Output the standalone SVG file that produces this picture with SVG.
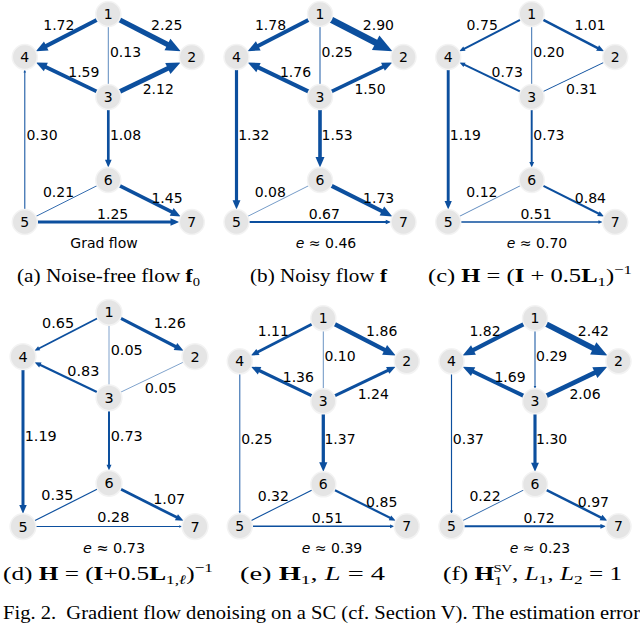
<svg xmlns="http://www.w3.org/2000/svg" width="640" height="625" viewBox="0 0 640 625">
<style>
.e line{stroke:#0c4f9e;fill:none;stroke-linecap:butt}
.n circle{fill:#e5e5e5;stroke:#f3f3f3;stroke-width:1.5}
.n text,.lb text,.lb{font-family:"DejaVu Sans",sans-serif;font-size:14px;text-anchor:middle;fill:#000}
.cap{font-family:"Liberation Serif",serif;font-size:19px;fill:#000}
.b{font-weight:bold}
.i{font-style:italic}
</style>
<defs>
<marker id="ah" markerUnits="strokeWidth" markerWidth="2.9" markerHeight="2.5" refX="0.5" refY="1.25" orient="auto" overflow="visible">
<path d="M0,0 L2.9,1.25 L0,2.5 Z" fill="#0c4f9e"/>
</marker>
</defs>

<!-- Panel a -->
<g id="panel-a" transform="translate(108.3,14)">
<g id="a-edges" class="e">
<line x1="-11.11" y1="5.72" x2="-63.83" y2="32.87" stroke-width="4.01" marker-end="url(#ah)"/>
<line x1="11.11" y1="5.72" x2="61.45" y2="31.64" stroke-width="5.13" marker-end="url(#ah)"/>
<line x1="0" y1="12.5" x2="0" y2="70.5" stroke-width="0.67"/>
<line x1="-11.27" y1="77.6" x2="-64.13" y2="52.28" stroke-width="3.74" marker-end="url(#ah)"/>
<line x1="11.27" y1="77.6" x2="61.73" y2="53.43" stroke-width="4.85" marker-end="url(#ah)"/>
<line x1="0" y1="95.5" x2="0" y2="147.09" stroke-width="2.67" marker-end="url(#ah)"/>
<line x1="-83.5" y1="195.5" x2="-83.5" y2="57.97" stroke-width="1.03" marker-end="url(#ah)"/>
<line x1="-72.33" y1="202.38" x2="-11.17" y2="171.62" stroke-width="0.84"/>
<line x1="11.17" y1="171.62" x2="64.94" y2="198.66" stroke-width="3.45" marker-end="url(#ah)"/>
<line x1="-71" y1="208" x2="63.74" y2="208" stroke-width="3.03" marker-end="url(#ah)"/>
</g>
<g id="a1" class="n"><circle cx="0" cy="0" r="12.5"/><text x="0" y="5">1</text></g>
<g id="a2" class="n"><circle cx="83.5" cy="43" r="12.5"/><text x="83.5" y="48">2</text></g>
<g id="a3" class="n"><circle cx="0" cy="83" r="12.5"/><text x="0" y="88">3</text></g>
<g id="a4" class="n"><circle cx="-83.5" cy="43" r="12.5"/><text x="-83.5" y="48">4</text></g>
<g id="a5" class="n"><circle cx="-83.5" cy="208" r="12.5"/><text x="-83.5" y="213">5</text></g>
<g id="a6" class="n"><circle cx="0" cy="166" r="12.5"/><text x="0" y="171">6</text></g>
<g id="a7" class="n"><circle cx="83.5" cy="208" r="12.5"/><text x="83.5" y="213">7</text></g>
<g id="a-labels" class="lb">
<text x="-49.5" y="16">1.72</text><text x="58.4" y="16">2.25</text><text x="17.2" y="42.5">0.13</text>
<text x="-24.5" y="62.8">1.59</text><text x="50" y="79.5">2.12</text><text x="17.2" y="126">1.08</text>
<text x="-66.3" y="126">0.30</text><text x="-49.8" y="182.7">0.21</text><text x="58.7" y="188.5">1.45</text>
<text x="4.3" y="204.5">1.25</text>
<text x="-4.3" y="233.5">Grad flow</text>
</g>
</g>

<!-- Panel b -->
<g id="panel-b" transform="translate(320,14)">
<g id="b-edges" class="e">
<line x1="-11.11" y1="5.72" x2="-63.56" y2="32.73" stroke-width="4.14" marker-end="url(#ah)"/>
<line x1="11.11" y1="5.72" x2="58.54" y2="30.15" stroke-width="6.49" marker-end="url(#ah)"/>
<line x1="0" y1="12.5" x2="0" y2="70.5" stroke-width="0.93"/>
<line x1="-11.27" y1="77.6" x2="-63.37" y2="52.65" stroke-width="4.10" marker-end="url(#ah)"/>
<line x1="11.27" y1="77.6" x2="64.55" y2="52.08" stroke-width="3.55" marker-end="url(#ah)"/>
<line x1="0" y1="95.5" x2="0" y2="144.83" stroke-width="3.61" marker-end="url(#ah)"/>
<line x1="-83.5" y1="55.5" x2="-83.5" y2="187.89" stroke-width="3.17" marker-end="url(#ah)"/>
<line x1="-72.33" y1="202.38" x2="-11.17" y2="171.62" stroke-width="0.57"/>
<line x1="11.17" y1="171.62" x2="63.68" y2="198.03" stroke-width="4.03" marker-end="url(#ah)"/>
<line x1="-71" y1="208" x2="66.66" y2="208" stroke-width="1.81" marker-end="url(#ah)"/>
</g>
<g id="b1" class="n"><circle cx="0" cy="0" r="12.5"/><text x="0" y="5">1</text></g>
<g id="b2" class="n"><circle cx="83.5" cy="43" r="12.5"/><text x="83.5" y="48">2</text></g>
<g id="b3" class="n"><circle cx="0" cy="83" r="12.5"/><text x="0" y="88">3</text></g>
<g id="b4" class="n"><circle cx="-83.5" cy="43" r="12.5"/><text x="-83.5" y="48">4</text></g>
<g id="b5" class="n"><circle cx="-83.5" cy="208" r="12.5"/><text x="-83.5" y="213">5</text></g>
<g id="b6" class="n"><circle cx="0" cy="166" r="12.5"/><text x="0" y="171">6</text></g>
<g id="b7" class="n"><circle cx="83.5" cy="208" r="12.5"/><text x="83.5" y="213">7</text></g>
<g id="b-labels" class="lb">
<text x="-49.5" y="16">1.78</text><text x="58.4" y="16">2.90</text><text x="17.2" y="42.5">0.25</text>
<text x="-24.5" y="62.8">1.76</text><text x="50" y="79.5">1.50</text><text x="17.2" y="126">1.53</text>
<text x="-66.3" y="126">1.32</text><text x="-49.8" y="182.7">0.08</text><text x="58.7" y="188.5">1.73</text>
<text x="4.3" y="204.5">0.67</text>
<text x="6" y="233.5"><tspan class="i">e</tspan> ≈ 0.46</text>
</g>
</g>

<!-- Panel c -->
<g id="panel-c" transform="translate(531.7,14)">
<g id="c-edges" class="e">
<line x1="-11.11" y1="5.72" x2="-68.18" y2="35.11" stroke-width="1.98" marker-end="url(#ah)"/>
<line x1="11.11" y1="5.72" x2="67.01" y2="34.51" stroke-width="2.52" marker-end="url(#ah)"/>
<line x1="0" y1="12.5" x2="0" y2="70.5" stroke-width="0.82"/>
<line x1="-11.27" y1="77.6" x2="-68.05" y2="50.4" stroke-width="1.93" marker-end="url(#ah)"/>
<line x1="11.27" y1="77.6" x2="72.23" y2="48.4" stroke-width="1.05"/>
<line x1="0" y1="95.5" x2="0" y2="148.86" stroke-width="1.93" marker-end="url(#ah)"/>
<line x1="-83.5" y1="55.5" x2="-83.5" y2="188.54" stroke-width="2.90" marker-end="url(#ah)"/>
<line x1="-72.33" y1="202.38" x2="-11.17" y2="171.62" stroke-width="0.65"/>
<line x1="11.17" y1="171.62" x2="67.69" y2="200.05" stroke-width="2.16" marker-end="url(#ah)"/>
<line x1="-71" y1="208" x2="67.47" y2="208" stroke-width="1.47" marker-end="url(#ah)"/>
</g>
<g id="c1" class="n"><circle cx="0" cy="0" r="12.5"/><text x="0" y="5">1</text></g>
<g id="c2" class="n"><circle cx="83.5" cy="43" r="12.5"/><text x="83.5" y="48">2</text></g>
<g id="c3" class="n"><circle cx="0" cy="83" r="12.5"/><text x="0" y="88">3</text></g>
<g id="c4" class="n"><circle cx="-83.5" cy="43" r="12.5"/><text x="-83.5" y="48">4</text></g>
<g id="c5" class="n"><circle cx="-83.5" cy="208" r="12.5"/><text x="-83.5" y="213">5</text></g>
<g id="c6" class="n"><circle cx="0" cy="166" r="12.5"/><text x="0" y="171">6</text></g>
<g id="c7" class="n"><circle cx="83.5" cy="208" r="12.5"/><text x="83.5" y="213">7</text></g>
<g id="c-labels" class="lb">
<text x="-49.5" y="16">0.75</text><text x="58.4" y="16">1.01</text><text x="17.2" y="42.5">0.20</text>
<text x="-24.5" y="62.8">0.73</text><text x="50" y="79.5">0.31</text><text x="17.2" y="126">0.73</text>
<text x="-66.3" y="126">1.19</text><text x="-49.8" y="182.7">0.12</text><text x="58.7" y="188.5">0.84</text>
<text x="4.3" y="204.5">0.51</text>
<text x="5.3" y="233.5"><tspan class="i">e</tspan> ≈ 0.70</text>
</g>
</g>

<!-- Panel d -->
<g id="panel-d" transform="translate(109,312.3) scale(1.03)">
<g id="d-edges" class="e">
<line x1="-11.11" y1="5.72" x2="-68.62" y2="35.34" stroke-width="1.77" marker-end="url(#ah)"/>
<line x1="11.11" y1="5.72" x2="65.89" y2="33.93" stroke-width="3.05" marker-end="url(#ah)"/>
<line x1="0" y1="12.5" x2="0" y2="70.5" stroke-width="0.51"/>
<line x1="-11.27" y1="77.6" x2="-67.59" y2="50.62" stroke-width="2.14" marker-end="url(#ah)"/>
<line x1="11.27" y1="77.6" x2="72.23" y2="48.4" stroke-width="0.51"/>
<line x1="0" y1="95.5" x2="0" y2="148.86" stroke-width="1.93" marker-end="url(#ah)"/>
<line x1="-83.5" y1="55.5" x2="-83.5" y2="188.54" stroke-width="2.90" marker-end="url(#ah)"/>
<line x1="-72.33" y1="202.38" x2="-11.17" y2="171.62" stroke-width="1.14"/>
<line x1="11.17" y1="171.62" x2="66.66" y2="199.53" stroke-width="2.65" marker-end="url(#ah)"/>
<line x1="-71" y1="208" x2="68.63" y2="208" stroke-width="0.99" marker-end="url(#ah)"/>
</g>
<g id="d1" class="n"><circle cx="0" cy="0" r="12.5"/><text x="0" y="5">1</text></g>
<g id="d2" class="n"><circle cx="83.5" cy="43" r="12.5"/><text x="83.5" y="48">2</text></g>
<g id="d3" class="n"><circle cx="0" cy="83" r="12.5"/><text x="0" y="88">3</text></g>
<g id="d4" class="n"><circle cx="-83.5" cy="43" r="12.5"/><text x="-83.5" y="48">4</text></g>
<g id="d5" class="n"><circle cx="-83.5" cy="208" r="12.5"/><text x="-83.5" y="213">5</text></g>
<g id="d6" class="n"><circle cx="0" cy="166" r="12.5"/><text x="0" y="171">6</text></g>
<g id="d7" class="n"><circle cx="83.5" cy="208" r="12.5"/><text x="83.5" y="213">7</text></g>
<g id="d-labels" class="lb">
<text x="-49.5" y="15">0.65</text><text x="59" y="15">1.26</text><text x="17.2" y="41">0.05</text>
<text x="-25" y="61.7">0.83</text><text x="50.2" y="78.8">0.05</text><text x="17.2" y="125">0.73</text>
<text x="-66.3" y="125">1.19</text><text x="-50.2" y="182.4">0.35</text><text x="58.5" y="186.6">1.07</text>
<text x="4.2" y="204">0.28</text>
<text x="4.9" y="233.7"><tspan class="i">e</tspan> ≈ 0.73</text>
</g>
</g>

<!-- Panel e -->
<g id="panel-e" transform="translate(323.3,318.3)">
<g id="e-edges" class="e">
<line x1="-11.11" y1="5.72" x2="-66.57" y2="34.28" stroke-width="2.73" marker-end="url(#ah)"/>
<line x1="11.11" y1="5.72" x2="63.21" y2="32.55" stroke-width="4.31" marker-end="url(#ah)"/>
<line x1="0" y1="12.5" x2="0" y2="70.5" stroke-width="0.61"/>
<line x1="-11.27" y1="77.6" x2="-65.19" y2="51.77" stroke-width="3.26" marker-end="url(#ah)"/>
<line x1="11.27" y1="77.6" x2="65.73" y2="51.51" stroke-width="3.00" marker-end="url(#ah)"/>
<line x1="0" y1="95.5" x2="0" y2="145.64" stroke-width="3.28" marker-end="url(#ah)"/>
<line x1="-83.5" y1="55.5" x2="-83.5" y2="193.28" stroke-width="0.93" marker-end="url(#ah)"/>
<line x1="-72.33" y1="202.38" x2="-11.17" y2="171.62" stroke-width="1.07"/>
<line x1="11.17" y1="171.62" x2="67.65" y2="200.03" stroke-width="2.19" marker-end="url(#ah)"/>
<line x1="-71" y1="208" x2="67.47" y2="208" stroke-width="1.47" marker-end="url(#ah)"/>
</g>
<g id="e1" class="n"><circle cx="0" cy="0" r="12.5"/><text x="0" y="5">1</text></g>
<g id="e2" class="n"><circle cx="83.5" cy="43" r="12.5"/><text x="83.5" y="48">2</text></g>
<g id="e3" class="n"><circle cx="0" cy="83" r="12.5"/><text x="0" y="88">3</text></g>
<g id="e4" class="n"><circle cx="-83.5" cy="43" r="12.5"/><text x="-83.5" y="48">4</text></g>
<g id="e5" class="n"><circle cx="-83.5" cy="208" r="12.5"/><text x="-83.5" y="213">5</text></g>
<g id="e6" class="n"><circle cx="0" cy="166" r="12.5"/><text x="0" y="171">6</text></g>
<g id="e7" class="n"><circle cx="83.5" cy="208" r="12.5"/><text x="83.5" y="213">7</text></g>
<g id="e-labels" class="lb">
<text x="-50" y="17.4">1.11</text><text x="58.4" y="17.4">1.86</text><text x="16.7" y="42.7">0.10</text>
<text x="-25" y="63.4">1.36</text><text x="50" y="80.7">1.24</text><text x="16.7" y="126">1.37</text>
<text x="-66.6" y="126">0.25</text><text x="-50" y="182.7">0.32</text><text x="58.4" y="188.4">0.85</text>
<text x="4" y="205">0.51</text>
<text x="8.7" y="234.7"><tspan class="i">e</tspan> ≈ 0.39</text>
</g>
</g>

<!-- Panel f -->
<g id="panel-f" transform="translate(535,318.3)">
<g id="f-edges" class="e">
<line x1="-11.11" y1="5.72" x2="-63.38" y2="32.64" stroke-width="4.22" marker-end="url(#ah)"/>
<line x1="11.11" y1="5.72" x2="60.69" y2="31.26" stroke-width="5.48" marker-end="url(#ah)"/>
<line x1="0" y1="12.5" x2="0" y2="68.08" stroke-width="1.01" marker-end="url(#ah)"/>
<line x1="-11.27" y1="77.6" x2="-63.68" y2="52.5" stroke-width="3.95" marker-end="url(#ah)"/>
<line x1="11.27" y1="77.6" x2="62.0" y2="53.3" stroke-width="4.73" marker-end="url(#ah)"/>
<line x1="0" y1="95.5" x2="0" y2="145.99" stroke-width="3.13" marker-end="url(#ah)"/>
<line x1="-83.5" y1="55.5" x2="-83.5" y2="192.68" stroke-width="1.18" marker-end="url(#ah)"/>
<line x1="-72.33" y1="202.38" x2="-11.17" y2="171.62" stroke-width="0.86"/>
<line x1="11.17" y1="171.62" x2="67.1" y2="199.75" stroke-width="2.44" marker-end="url(#ah)"/>
<line x1="-71" y1="208" x2="66.41" y2="208" stroke-width="1.91" marker-end="url(#ah)"/>
</g>
<g id="f1" class="n"><circle cx="0" cy="0" r="12.5"/><text x="0" y="5">1</text></g>
<g id="f2" class="n"><circle cx="83.5" cy="43" r="12.5"/><text x="83.5" y="48">2</text></g>
<g id="f3" class="n"><circle cx="0" cy="83" r="12.5"/><text x="0" y="88">3</text></g>
<g id="f4" class="n"><circle cx="-83.5" cy="43" r="12.5"/><text x="-83.5" y="48">4</text></g>
<g id="f5" class="n"><circle cx="-83.5" cy="208" r="12.5"/><text x="-83.5" y="213">5</text></g>
<g id="f6" class="n"><circle cx="0" cy="166" r="12.5"/><text x="0" y="171">6</text></g>
<g id="f7" class="n"><circle cx="83.5" cy="208" r="12.5"/><text x="83.5" y="213">7</text></g>
<g id="f-labels" class="lb">
<text x="-50" y="17.4">1.82</text><text x="58.4" y="17.4">2.42</text><text x="16.7" y="42.7">0.29</text>
<text x="-25" y="63.4">1.69</text><text x="50" y="80.7">2.06</text><text x="16.7" y="126">1.30</text>
<text x="-66.6" y="126">0.37</text><text x="-50" y="182.7">0.22</text><text x="58.4" y="188.4">0.97</text>
<text x="4" y="205">0.72</text>
<text x="5" y="234.7"><tspan class="i">e</tspan> ≈ 0.23</text>
</g>
</g>

<!-- Captions -->
<g id="captions">
<text class="cap" x="17" y="282" textLength="183" lengthAdjust="spacingAndGlyphs">(a) Noise-free flow <tspan class="b">f</tspan><tspan font-size="13" dy="4">0</tspan></text>
<text class="cap" x="250" y="282" textLength="137" lengthAdjust="spacingAndGlyphs">(b) Noisy flow <tspan class="b">f</tspan></text>
<text class="cap" x="428" y="282" textLength="204" lengthAdjust="spacingAndGlyphs">(c) <tspan class="b">H</tspan> = (<tspan class="b">I</tspan> + 0.5<tspan class="b">L</tspan><tspan font-size="13" dy="4">1</tspan><tspan dy="-4">)</tspan><tspan font-size="13" dy="-8">−1</tspan></text>
<text class="cap" x="3" y="580" textLength="210" lengthAdjust="spacingAndGlyphs">(d) <tspan class="b">H</tspan> = (<tspan class="b">I</tspan>+0.5<tspan class="b">L</tspan><tspan font-size="13" dy="4">1,<tspan class="i">ℓ</tspan></tspan><tspan dy="-4">)</tspan><tspan font-size="13" dy="-8">−1</tspan></text>
<text class="cap" x="240" y="580" textLength="145" lengthAdjust="spacingAndGlyphs">(e) <tspan class="b">H</tspan><tspan font-size="13" dy="4">1</tspan><tspan dy="-4">, </tspan><tspan class="i">L</tspan> = 4</text>
<text class="cap" x="443" y="580" textLength="179" lengthAdjust="spacingAndGlyphs">(f) <tspan class="b">H</tspan><tspan font-size="13" dy="5">1</tspan><tspan font-size="11" dx="-7" dy="-13">SV</tspan><tspan dy="8">, </tspan><tspan class="i">L</tspan><tspan font-size="13" dy="4">1</tspan><tspan dy="-4">, </tspan><tspan class="i">L</tspan><tspan font-size="13" dy="4">2</tspan><tspan dy="-4"> = 1</tspan></text>
<text class="cap" x="3" y="619" font-size="20" textLength="637" lengthAdjust="spacingAndGlyphs">Fig. 2.&#160; Gradient flow denoising on a SC (cf. Section V). The estimation error</text>
</g>
</svg>
